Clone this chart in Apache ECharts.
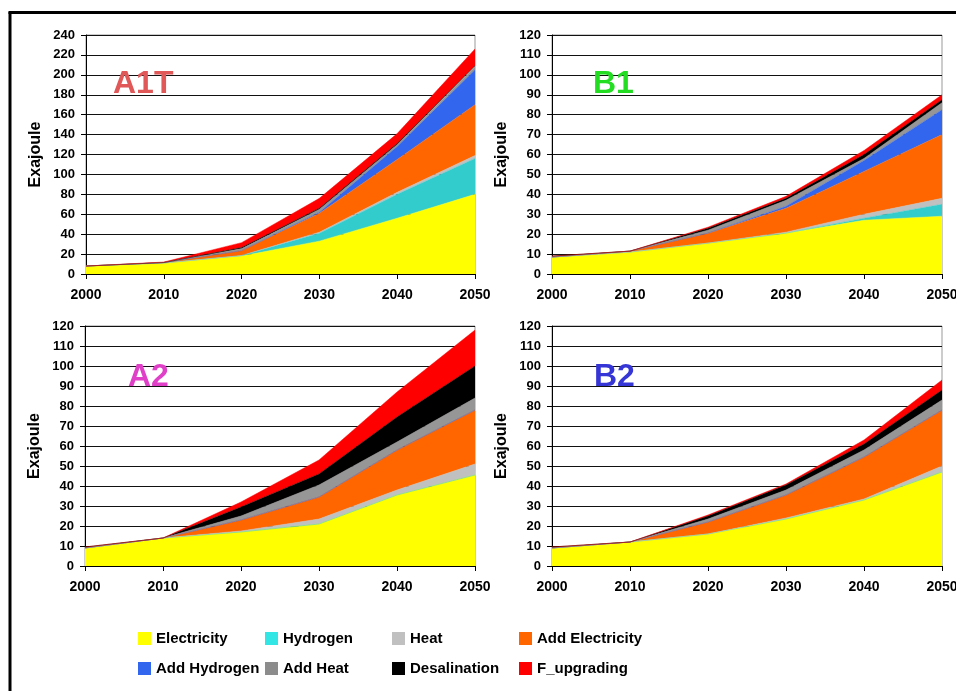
<!DOCTYPE html>
<html>
<head>
<meta charset="utf-8">
<script src="https://cdn.jsdelivr.net/npm/echarts@6/dist/echarts.min.js"></script>
<style>html,body{margin:0;padding:0;background:#fff}#c{width:956px;height:691px}</style>
</head>
<body>
<div id="c"></div>
<script>
// ---- data ----
const years = ['2000', '2010', '2020', '2030', '2040', '2050'];
const seriesNames = ['Electricity', 'Hydrogen', 'Heat', 'Add Electricity', 'Add Hydrogen', 'Add Heat', 'Desalination', 'F_upgrading'];
const panelTitles = ['A1T', 'B1', 'A2', 'B2'];
const yMaxes = [240, 120, 120, 120];
const yIntervals = [20, 10, 10, 10];
// values per series, in seriesNames order (Exajoule)
const A1T = [
  [8, 11, 18, 33, 56, 80],
  [0, 0, 0.5, 8, 24, 36],
  [0, 0, 0, 1, 2, 3],
  [0, 0.5, 5, 19, 33, 51],
  [0, 0, 0, 1, 13, 35],
  [0, 0, 2, 3, 2, 3],
  [0, 0, 1, 1, 1, 1],
  [0, 0.5, 5, 10, 10, 17]
];
const B1 = [
  [8.5, 11, 15.5, 20.5, 27, 29],
  [0, 0, 0, 0, 1, 6],
  [0, 0, 0, 0.5, 2, 3],
  [0, 0.5, 5, 12, 21.5, 32],
  [0, 0, 0, 1, 5.5, 12.5],
  [0, 0, 1.5, 3, 1, 3.5],
  [0.5, 0, 1, 1, 2, 1.5],
  [0, 0, 0.5, 1, 2, 2.5]
];
const A2 = [
  [9, 14, 17, 21, 35.5, 45.5],
  [0, 0, 0, 0, 0, 0],
  [0, 0, 0.5, 2.5, 2.5, 5.5],
  [0, 0, 5.5, 11, 20, 27],
  [0, 0, 0, 0, 0, 0],
  [0, 0, 2, 6, 4, 6],
  [0.5, 0, 4.5, 5.5, 12.5, 16],
  [0, 0, 2.5, 7, 12.5, 18]
];
const B2 = [
  [9, 12, 16, 23.5, 33, 47],
  [0, 0, 0, 0, 0, 0],
  [0, 0, 0, 0.5, 0.5, 3],
  [0, 0, 6, 11.5, 21, 28],
  [0, 0, 0, 0, 0, 0],
  [0, 0, 1.5, 2.5, 3.5, 5],
  [0.5, 0, 1.5, 2.5, 3, 5],
  [0, 0, 0.5, 0.5, 2, 5]
];
const panels = [A1T, B1, A2, B2];

// ---- styles ----
const colors = ['#ffff00', '#33cccc', '#c0c0c0', '#ff6600', '#3366ee', '#969696', '#000000', '#ff0000'];
const legendColors = ['#ffff00', '#33e6e6', '#c0c0c0', '#ff6600', '#3366ee', '#8c8c8c', '#000000', '#ff0000'];
const titleColors = ['#e05858', '#22dd22', '#e040c8', '#3636d6'];
const grids = [
  {left: 86, top: 35, width: 389, height: 239},
  {left: 552, top: 35, width: 390, height: 239},
  {left: 85, top: 326, width: 390, height: 240},
  {left: 552, top: 326, width: 390, height: 240}
];
const titlePos = [[113, 68], [593, 68], [128, 361], [594, 361]];
const sans = "'Liberation Sans', Arial, sans-serif";

const option = {
  animation: false,
  backgroundColor: '#fff',
  grid: grids.map(g => Object.assign({show: true, borderColor: '#999', borderWidth: 1, backgroundColor: 'transparent', containLabel: false, outerBoundsMode: 'none'}, g)),
  xAxis: grids.map((g, i) => ({
    type: 'category', gridIndex: i, data: years, boundaryGap: false,
    axisLine: {onZero: false, lineStyle: {color: '#000', width: 1}},
    axisTick: {show: true, length: 5, lineStyle: {color: '#000'}},
    splitLine: {show: false},
    axisLabel: {color: '#000', fontWeight: 'bold', fontSize: 14, fontFamily: sans, margin: 14, interval: 0, hideOverlap: false}
  })),
  yAxis: grids.map((g, i) => ({
    type: 'value', gridIndex: i, min: 0, max: yMaxes[i], interval: yIntervals[i],
    name: 'Exajoule', nameLocation: 'middle', nameGap: 42,
    nameTextStyle: {color: '#000', fontWeight: 'bold', fontSize: 16, fontFamily: sans},
    axisLine: {show: true, lineStyle: {color: '#000', width: 1}},
    axisTick: {show: true, length: 5, lineStyle: {color: '#000'}},
    splitLine: {show: true, lineStyle: {color: '#111', width: 1}},
    axisLabel: {color: '#000', fontWeight: 'bold', fontSize: 13, fontFamily: sans, margin: 11}
  })),
  legend: {
    left: 138, top: 626, width: 512, padding: 0,
    orient: 'horizontal', itemGap: 5,
    itemWidth: 13, itemHeight: 13, icon: 'rect',
    data: seriesNames.map((n, k) => ({name: n, itemStyle: {color: legendColors[k]}})),
    textStyle: {color: '#000', fontWeight: 'bold', fontSize: 15, fontFamily: sans, width: 104, lineHeight: 25, overflow: 'none'}
  },
  graphic: [
    {type: 'line', shape: {x1: 10, y1: 12, x2: 10, y2: 691}, style: {stroke: '#000', lineWidth: 3}},
    {type: 'line', shape: {x1: 8.5, y1: 12.5, x2: 956, y2: 12.5}, style: {stroke: '#000', lineWidth: 3}}
  ].concat(panelTitles.map((t, i) => ({
    type: 'text', left: titlePos[i][0], top: titlePos[i][1], z: 100,
    style: {text: t, fill: titleColors[i], font: 'bold 32px ' + sans}
  }))),
  series: []
};

panels.forEach((pd, i) => {
  seriesNames.forEach((n, k) => {
    option.series.push({
      name: n, type: 'line', xAxisIndex: i, yAxisIndex: i, stack: 'p' + i,
      symbol: 'none', showSymbol: false, smooth: false,
      lineStyle: {width: 0.5, color: colors[k]},
      itemStyle: {color: colors[k]},
      areaStyle: {color: colors[k], opacity: 1},
      data: pd[k]
    });
  });
});

const chart = echarts.init(document.getElementById('c'));
chart.setOption(option);
</script>
</body>
</html>
